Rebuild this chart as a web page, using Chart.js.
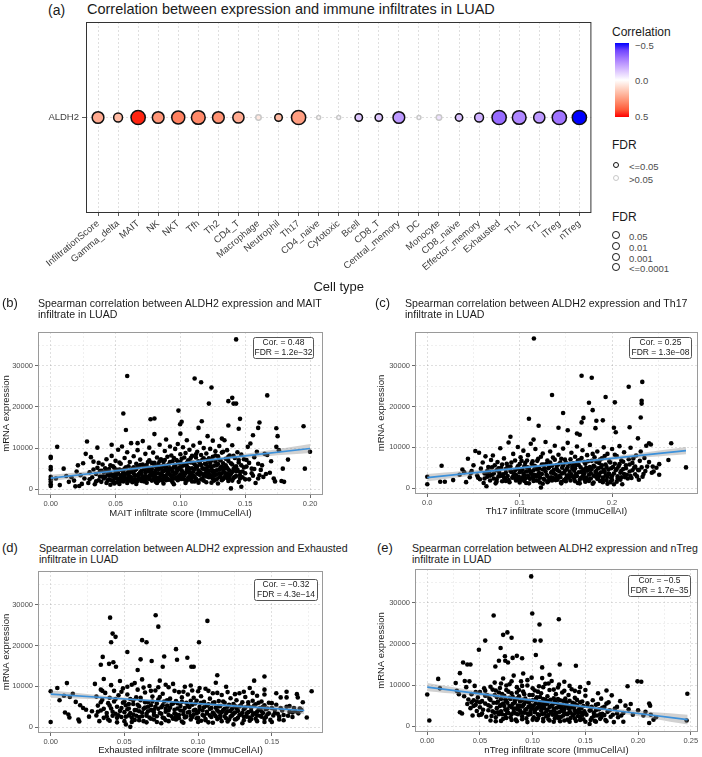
<!DOCTYPE html>
<html>
<head>
<meta charset="utf-8">
<script src="https://cdn.jsdelivr.net/npm/chart.js@4.4.1/dist/chart.umd.min.js"></script>
<style>
  body { margin: 0; background: #fff; width: 702px; height: 757px; position: relative; overflow: hidden;
         font-family: "Liberation Sans", Arial, sans-serif; color: #1a1a1a; }
  .abs { position: absolute; white-space: nowrap; }
  canvas { position: absolute; }
  .tag { font-size: 13px; line-height: 14px; }
  .ttl { font-size: 10.6px; line-height: 11px; }
  .lg { font-size: 9.5px; line-height: 11px; color: #4d4d4d; }
  .dot { position: absolute; border-radius: 50%; box-sizing: content-box; }
</style>
</head>
<body>

<div class="abs tag" style="left:48px;top:2px;font-size:14px;line-height:16px">(a)</div>
<div class="abs" style="left:87px;top:1px;font-size:14.5px;line-height:17px">Correlation between expression and immune infiltrates in LUAD</div>
<canvas id="dotplot" width="600" height="300" style="left:0;top:0"></canvas>

<!-- legends for (a) -->
<div class="abs" style="left:612px;top:25px;font-size:12px;line-height:14px">Correlation</div>
<div id="cbar" class="abs" style="left:615px;top:43px;width:14px;height:74px"></div>
<div class="abs lg" style="left:635px;top:40px">−0.5</div>
<div class="abs lg" style="left:635px;top:74.5px">0.0</div>
<div class="abs lg" style="left:635px;top:111px">0.5</div>
<div class="abs" style="left:612px;top:138px;font-size:12px;line-height:14px">FDR</div>
<div class="dot" style="left:613.4px;top:162.4px;width:4px;height:4px;border:1.6px solid #111"></div>
<div class="dot" style="left:613.4px;top:175.4px;width:4px;height:4px;border:1.6px solid #c8c8c8"></div>
<div class="abs lg" style="left:629px;top:160.5px">&lt;=0.05</div>
<div class="abs lg" style="left:629px;top:173.5px">&gt;0.05</div>
<div class="abs" style="left:612px;top:210px;font-size:12px;line-height:14px">FDR</div>
<div class="dot" style="left:612.3px;top:231.3px;width:5.8px;height:5.8px;border:1.8px solid #111"></div>
<div class="dot" style="left:612.3px;top:242.3px;width:5.8px;height:5.8px;border:1.8px solid #111"></div>
<div class="dot" style="left:612.3px;top:253.3px;width:5.8px;height:5.8px;border:1.8px solid #111"></div>
<div class="dot" style="left:612.3px;top:263.3px;width:5.8px;height:5.8px;border:1.8px solid #111"></div>
<div class="abs lg" style="left:629px;top:230.5px">0.05</div>
<div class="abs lg" style="left:629px;top:241.5px">0.01</div>
<div class="abs lg" style="left:629px;top:252.5px">0.001</div>
<div class="abs lg" style="left:629px;top:262.5px">&lt;=0.0001</div>

<div class="abs tag" style="left:2px;top:296px">(b)</div>
<div class="abs ttl" style="left:38px;top:298px">Spearman correlation between ALDH2 expression and MAIT<br>infiltrate in LUAD</div>
<canvas id="mait" width="350" height="195" style="left:0;top:325px"></canvas>

<div class="abs tag" style="left:375px;top:296px">(c)</div>
<div class="abs ttl" style="left:405px;top:298px">Spearman correlation between ALDH2 expression and Th17<br>infiltrate in LUAD</div>
<canvas id="th17" width="352" height="195" style="left:350px;top:325px"></canvas>

<div class="abs tag" style="left:2px;top:541px">(d)</div>
<div class="abs ttl" style="left:39px;top:543px">Spearman correlation between ALDH2 expression and Exhausted<br>infiltrate in LUAD</div>
<canvas id="exhausted" width="350" height="193" style="left:0;top:564px"></canvas>

<div class="abs tag" style="left:377px;top:541px">(e)</div>
<div class="abs ttl" style="left:412px;top:543px">Spearman correlation between ALDH2 expression and nTreg<br>infiltrate in LUAD</div>
<canvas id="ntreg" width="352" height="195" style="left:350px;top:562px"></canvas>

<script>
// ---- panel (a) data ----
const geneName = 'ALDH2';
const cellTypes = ['InfiltrationScore', 'Gamma_delta', 'MAIT', 'NK', 'NKT', 'Tfh', 'Th2', 'CD4_T', 'Macrophage',
  'Neutrophil', 'Th17', 'CD4_naive', 'Cytotoxic', 'Bcell', 'CD8_T', 'Central_memory', 'DC', 'Monocyte',
  'CD8_naive', 'Effector_memory', 'Exhausted', 'Th1', 'Tr1', 'iTreg', 'nTreg'];
const corValues = [0.22, 0.18, 0.48, 0.27, 0.32, 0.3, 0.28, 0.22, 0.06, 0.18, 0.25, 0.01, -0.01, -0.12, -0.12,
  -0.22, -0.01, -0.06, -0.13, -0.17, -0.32, -0.26, -0.22, -0.3, -0.5];
const fdrValues = [9e-4, 1.1e-2, 1.2e-32, 9e-4, 2.8e-4, 1.5e-4, 9e-4, 1.4e-3, 0.23, 0.036, 1.3e-8, 0.9, 0.9,
  0.04, 0.04, 9e-4, 0.9, 0.23, 0.045, 1.1e-2, 4.3e-14, 1.5e-4, 1.4e-3, 1e-5, 1.7e-35];

// ---- scatter panels: shared y axis ----
const yLabels = ['0', '10000', '20000', '30000'];
const yRange = [-1400, 38200];

// (b) MAIT
const maitXLabels = ['0.00', '0.05', '0.10', '0.15', '0.20'];
const maitPoints = [
  [0.143,36400],[0.059,27500],[0.111,26900],[0.116,26000],[0.124,24700],[0.167,22800],[0.140,22200],[0.137,21400],
  [0.141,20800],[0.143,20800],[0.122,20800],[0.0985,19100],[0.056,18400],[0.077,17000],[0.080,17200],[0.146,17100],
  [0.1165,16500],[0.101,16400],[0.161,16200],[0.0998,15800],[0.195,15300],[0.137,15500],[0.114,14900],[0.160,14900],
  [0.174,14800],[0.145,14700],[0.058,14400],[0.175,12900],[0.121,12900],[0.080,13400],[0.100,13500],[0.156,13100],
  [0.067,11200],[0.089,12100],[0.105,11900],[0.132,12300],[0.047,10800],[0.036,10100],
  [0.000,7900],[0.000,7600],[0.000,5400],[0.000,4800],[0.000,3000],[0.000,2400],[0.000,1800],[0.000,1200],[0.000,800],
  [0.005,10300],[0.007,1000],[0.010,5000],[0.014,1800],[0.004,2600],[0.012,3200],[0.018,2100],[0.020,4300],[0.021,5800],
  [0.022,800],[0.024,1300],[0.025,6300],[0.026,2600],[0.027,8600],[0.028,11600],[0.029,1500],[0.030,4100],[0.031,7800],
  [0.032,2900],[0.033,6700],[0.034,1200],[0.035,3700],[0.019,700],[0.016,2900],[0.023,3400],
  [0.036,5200],[0.037,2200],[0.038,4400],[0.039,1800],[0.040,3100],[0.040,6000],[0.041,2600],[0.042,5100],[0.043,1500],
  [0.043,7300],[0.044,3600],[0.045,2400],[0.045,4900],[0.046,1100],[0.047,3300],[0.047,8100],[0.048,2000],[0.048,5600],
  [0.049,2900],[0.050,4200],[0.050,6900],[0.051,1700],[0.051,3500],[0.052,2500],[0.052,9600],[0.053,4800],[0.053,1300],
  [0.054,3000],[0.054,6200],[0.055,2200],[0.055,10400],[0.056,4100],[0.056,1900],[0.057,7600],[0.057,3200],[0.058,5300],
  [0.058,2600],[0.059,1500],[0.059,9000],[0.060,4400],[0.060,3600],[0.061,2100],[0.061,6600],[0.062,2900],[0.062,11200],
  [0.063,5000],[0.063,1700],[0.064,3800],[0.064,8000],
  [0.065,2400],[0.065,4600],[0.066,6200],[0.066,1300],[0.067,3400],[0.067,9500],[0.068,2800],[0.068,5500],[0.069,4100],
  [0.069,7200],[0.070,2000],[0.070,3700],[0.071,6000],[0.071,11700],[0.072,2500],[0.072,4800],[0.073,8600],[0.073,3200],
  [0.074,1600],[0.074,5900],[0.075,4300],[0.075,2800],[0.076,7000],[0.076,10100],[0.077,3600],[0.077,5200],[0.078,2100],
  [0.078,6400],[0.079,4000],[0.079,8900],[0.080,3100],[0.080,5700],[0.081,1800],[0.081,4600],[0.082,7700],[0.082,2700],
  [0.083,6100],[0.083,3900],[0.084,10800],[0.084,5000],[0.085,2300],[0.085,7300],[0.086,4200],[0.086,3300],[0.087,6600],
  [0.087,1400],[0.088,5400],[0.088,9300],[0.089,3000],[0.089,4700],[0.090,7900],[0.090,2600],[0.091,6000],[0.091,3800],
  [0.092,10400],[0.092,5100],[0.093,2200],[0.093,8200],[0.094,4400],[0.094,6800],[0.095,3500],[0.095,1200],[0.096,5800],
  [0.096,9800],[0.097,2900],[0.097,7100],[0.098,4600],[0.098,11000],[0.099,3200],[0.099,6300],
  [0.100,5300],[0.100,8500],[0.101,2500],[0.101,7400],[0.102,4100],[0.102,10200],[0.103,6000],[0.103,3400],[0.104,8800],
  [0.104,1500],[0.105,5600],[0.105,4700],[0.106,7000],[0.106,2800],[0.107,9600],[0.107,5000],[0.108,3900],[0.108,6500],
  [0.109,1900],[0.109,8100],[0.110,4300],[0.110,10600],[0.111,6100],[0.111,3000],[0.112,7700],[0.112,5300],[0.113,2200],
  [0.113,9100],[0.114,4600],[0.114,6800],[0.115,3500],[0.115,11300],[0.116,5900],[0.116,8300],[0.117,2600],[0.117,7200],
  [0.118,4900],[0.118,10000],[0.119,3800],[0.119,6200],[0.120,1700],[0.120,8700],[0.121,5400],[0.121,4000],[0.122,7500],
  [0.122,2900],[0.123,9800],[0.123,6400],[0.124,3300],[0.124,5000],[0.125,11800],[0.125,7900],[0.126,4400],[0.126,2100],
  [0.127,6700],[0.127,9200],[0.128,3600],[0.128,5800],[0.129,8000],[0.129,1400],[0.130,4800],[0.130,10500],[0.131,7000],
  [0.131,3100],[0.132,5500],[0.132,8900],[0.133,2500],[0.133,6300],[0.134,4100],[0.134,11900],[0.135,7400],[0.135,3400],
  [0.136,5200],[0.136,9500],[0.137,2000],[0.137,6900],[0.138,4500],[0.138,8200],[0.139,200],[0.139,3700],[0.140,6000],
  [0.140,10700],[0.141,4900],[0.141,2700],[0.142,7600],[0.143,3200],[0.143,5600],[0.144,9000],[0.145,1800],[0.145,6500],
  [0.146,4200],[0.147,600],[0.147,8400],[0.148,2900],[0.149,5300],[0.150,3900],
  [0.151,7100],[0.152,10300],[0.153,2400],[0.154,11100],[0.155,5000],[0.156,3300],[0.157,7800],[0.158,1500],[0.159,9100],
  [0.160,6200],[0.161,3400],[0.162,4700],[0.164,3000],[0.165,8600],[0.167,8300],[0.169,4000],[0.170,6800],[0.172,2600],
  [0.173,1900],[0.174,10300],[0.176,9500],[0.178,2000],[0.179,5000],[0.180,1800],[0.183,7200],[0.196,5000],[0.200,9100]
];
const maitPointsDense = [
  [0.041,4100],[0.042,3000],[0.044,2100],[0.046,3900],[0.046,5800],[0.048,3500],[0.049,1400],[0.050,2700],[0.052,3900],
  [0.053,6500],[0.054,2000],[0.055,4600],[0.056,2900],[0.057,5000],[0.058,3800],[0.059,2200],[0.060,5600],[0.061,3100],
  [0.062,4200],[0.063,2400],[0.064,5300],[0.065,3300],[0.066,2300],[0.066,4900],[0.067,2000],[0.068,3700],[0.069,2500],
  [0.069,5900],[0.070,4500],[0.071,3100],[0.072,5500],[0.072,1900],[0.073,4100],[0.074,3000],[0.075,5100],[0.075,6600],
  [0.076,2500],[0.077,4400],[0.078,3300],[0.078,4900],[0.079,2400],[0.080,6400],[0.081,3700],[0.082,5200],[0.082,1500],
  [0.083,4800],[0.084,2900],[0.084,6800],[0.085,3600],[0.086,5600],[0.086,2100],[0.087,4400],[0.088,3200],[0.088,7100],
  [0.089,5700],[0.090,3900],[0.090,4900],[0.091,2300],[0.092,6600],[0.092,3600],[0.093,4800],[0.094,2600],[0.095,5400],
  [0.095,7600],[0.096,3900],[0.097,4900],[0.098,2200],[0.098,6700],[0.099,5200],[0.100,3600],[0.100,6600],[0.101,4600],
  [0.102,2900],[0.102,5700],[0.103,7700],[0.104,3900],[0.105,6400],[0.106,4200],[0.106,5200],[0.107,3200],[0.108,7600],
  [0.108,2300],[0.109,5100],[0.110,6400],[0.110,3400],[0.111,4900],[0.112,2600],[0.112,8500],[0.113,5600],[0.114,3700],
  [0.115,6400],[0.115,4300],[0.116,2400],[0.117,5100],[0.118,3300],[0.118,7500],[0.119,5000],[0.120,3100],[0.120,6100],
  [0.121,7100],[0.122,4400],[0.123,3000],[0.123,5600],[0.124,7000],[0.125,4200],[0.125,2600],[0.126,5700],[0.127,3500],
  [0.127,8200],[0.128,4600],[0.129,6100],[0.130,2900],[0.130,7200],[0.131,5200],[0.132,3900],[0.133,4700],[0.133,9100],
  [0.134,2900],[0.135,5800],[0.136,3800],[0.137,7900],[0.137,4800],[0.138,2600],[0.139,6300],[0.140,4200],[0.141,8100],
  [0.142,5300],[0.142,3000],[0.144,4800],[0.145,7100],[0.146,3400],[0.147,5800],[0.148,4300],[0.149,7300],[0.150,2400],
  [0.151,5500],[0.153,6400],[0.155,3900],[0.157,4900],[0.160,2600],[0.163,5800],[0.166,3700],[0.030,2400],[0.033,4800],
  [0.035,1900],[0.037,6400],[0.038,3100],[0.039,4500],[0.043,4600],[0.045,3400],[0.047,2200],[0.049,5200],[0.051,4700],
  [0.053,2300],[0.055,3500],[0.057,2400],[0.060,2800],[0.062,4700],[0.064,2000],[0.067,5500],[0.070,2600],[0.073,2200],
  [0.076,3200],[0.079,3400],[0.081,2600],[0.083,2000],[0.085,5100],[0.087,2500],[0.089,2200],[0.091,4600],[0.093,3100],
  [0.094,1700],[0.096,2600],[0.097,4000],[0.099,2500],[0.101,3500],[0.103,2400],[0.105,2100],[0.107,4200],[0.109,3000],
  [0.111,1900],[0.113,3800],[0.114,1600],[0.116,3900],[0.118,2100],[0.120,4500],[0.122,3700],[0.124,1600],[0.126,3300],
  [0.128,2400],[0.130,3900],[0.132,2200],[0.134,5100],[0.136,2700],[0.138,3200],[0.140,2100],[0.143,4300],[0.146,2600]
];
const maitFitX = [0, 0.05, 0.1, 0.15, 0.2];
const maitFitY = [2700, 4500, 6300, 8100, 9900];
const maitFitHalf = [800, 450, 300, 500, 1100];

// (c) Th17
const th17XLabels = ['0.0', '0.1', '0.2'];
const th17Points = [
  [0.1154,36600],[0.167,27500],[0.178,27000],[0.2327,26000],[0.218,24800],[0.135,22800],[0.193,22300],[0.232,21400],
  [0.232,20700],[0.175,20900],[0.203,21000],[0.179,19100],[0.147,18400],[0.231,17300],[0.110,17000],[0.169,17200],
  [0.190,16600],[0.183,16500],[0.167,16100],[0.1205,15300],[0.219,14900],[0.202,14800],[0.142,14800],[0.182,14700],
  [0.152,14200],[0.204,13700],[0.162,13400],[0.165,13100],[0.115,11900],[0.228,12200],[0.090,12600],
  [0,2800],[0,1000],[0.0155,5500],[0.014,1600],[0.019,1600],[0.028,2000],[0.035,3300],[0.038,4600],[0.04,3900],
  [0.042,1500],[0.044,7200],[0.046,2700],[0.048,4200],[0.05,5600],[0.052,9100],[0.054,3100],[0.056,8700],[0.057,2200],
  [0.058,4800],[0.06,6300],[0.061,1300],[0.062,3600],[0.063,7800],[0.064,500],[0.065,2800],[0.066,5200],[0.067,4100],
  [0.068,1900],[0.069,6900],[0.07,3300],[0.071,8000],[0.072,2400],[0.073,5600],[0.074,1200],[0.075,4400],[0.076,6400],
  [0.077,2900],[0.078,3800],[0.079,9800],[0.08,5000],[0.081,1700],[0.082,3400],[0.083,7300],[0.084,2300],[0.085,4700],
  [0.086,6000],[0.087,3000],[0.088,11200],[0.089,1500],[0.09,5300],[0.091,4000],[0.092,2600],[0.093,8400],[0.094,3500],
  [0.095,6800],[0.096,1900],[0.097,4800],[0.098,10100],[0.099,2800],[0.1,5900],[0.1,3900],[0.101,7600],[0.102,2100],
  [0.103,4500],[0.104,9200],[0.105,3200],[0.106,6200],[0.107,1300],[0.108,5100],[0.109,8100],[0.11,2600],[0.111,4200],
  [0.112,10900],[0.113,3500],[0.114,6600],[0.115,1800],[0.116,5500],[0.117,9600],[0.118,2900],[0.119,4600],[0.12,7200],
  [0.121,3700],[0.122,1400],[0.123,200],[0.124,5800],[0.125,8500],[0.126,2300],[0.127,4900],[0.128,11300],[0.129,3300],
  [0.13,6800],[0.131,1700],[0.132,5200],[0.133,9000],[0.134,2700],[0.135,4100],[0.136,7500],[0.137,3600],[0.138,10400],
  [0.139,2000],[0.14,5600],[0.141,4400],[0.142,8200],[0.143,3000],[0.144,6300],[0.145,1500],[0.146,5000],[0.147,9700],
  [0.148,3800],[0.149,7000],[0.15,2400],[0.151,4700],[0.152,11100],[0.153,3200],[0.154,6000],[0.155,1900],[0.156,8700],
  [0.157,5300],[0.158,2800],[0.159,4300],[0.16,7700],[0.161,3500],[0.162,10200],[0.163,1300],[0.164,5700],[0.165,6900],
  [0.166,2500],[0.167,4000],[0.168,9300],[0.169,3100],[0.17,6400],[0.171,1600],[0.172,5000],[0.173,8100],[0.174,2200],
  [0.175,4600],[0.176,10600],[0.177,3700],[0.178,6700],[0.179,1100],[0.18,5500],[0.181,7600],[0.182,2900],[0.183,4200],
  [0.184,9000],[0.185,3400],[0.186,6200],[0.187,1800],[0.188,5100],[0.189,7300],[0.19,2600],[0.191,10000],[0.192,4000],
  [0.193,5800],[0.194,2000],[0.195,8400],[0.196,3600],[0.197,6600],[0.198,1500],[0.199,4900],[0.2,9600],[0.2,3000],
  [0.202,1000],[0.203,6000],[0.204,4400],[0.205,7900],[0.206,2300],[0.207,5300],[0.208,10300],[0.209,3800],[0.21,6800],
  [0.211,1000],[0.212,4700],[0.213,8800],[0.214,2700],[0.215,5600],[0.216,3300],[0.218,7100],[0.219,4100],[0.22,9900],
  [0.221,2500],[0.222,6200],[0.224,5000],[0.225,3400],[0.226,8000],[0.228,4500],[0.229,2100],[0.23,6700],[0.231,9000],
  [0.233,2800],[0.234,3500],[0.235,7400],[0.237,10400],[0.238,5300],[0.24,11000],[0.242,10700],[0.244,5300],[0.245,4100],
  [0.251,3300],[0.251,5900],[0.261,6900],[0.264,11000],[0.28,5100]
];
const th17PointsDense = [
  [0.062,2400],[0.065,4300],[0.068,3100],[0.07,5100],[0.072,3600],[0.075,2200],[0.077,4900],[0.079,3000],[0.081,5800],
  [0.083,2700],[0.085,3800],[0.087,5300],[0.088,2000],[0.09,4200],[0.091,6300],[0.093,2900],[0.095,4400],[0.096,3300],
  [0.098,5400],[0.099,2200],[0.101,4300],[0.102,6700],[0.103,2700],[0.104,3600],[0.105,5400],[0.106,2400],[0.107,4100],
  [0.108,6800],[0.109,3100],[0.11,5000],[0.111,2300],[0.112,3900],[0.113,6000],[0.114,2600],[0.115,4400],[0.116,3300],
  [0.117,5300],[0.118,1900],[0.119,6700],[0.12,3400],[0.121,4800],[0.122,2600],[0.123,7700],[0.124,3500],[0.125,4600],
  [0.126,5800],[0.127,2100],[0.128,4100],[0.129,6000],[0.13,3000],[0.131,4900],[0.132,2300],[0.133,6300],[0.134,3800],
  [0.135,5500],[0.136,2500],[0.137,4500],[0.138,7000],[0.139,3300],[0.14,4900],[0.141,2100],[0.142,5800],[0.143,4100],
  [0.144,2700],[0.145,7200],[0.146,3600],[0.147,5600],[0.148,2000],[0.149,4300],[0.15,6300],[0.151,3100],[0.152,5200],
  [0.153,2600],[0.154,4100],[0.155,7100],[0.156,3400],[0.157,4800],[0.158,6100],[0.159,2300],[0.16,4900],[0.161,5700],
  [0.162,3000],[0.163,6800],[0.164,3900],[0.165,2100],[0.166,5100],[0.167,7400],[0.168,2900],[0.169,4600],[0.17,3700],
  [0.171,6000],[0.172,2600],[0.173,4300],[0.174,6600],[0.175,3300],[0.176,5200],[0.177,2400],[0.178,4700],[0.179,8400],
  [0.18,3100],[0.181,5300],[0.182,4000],[0.183,6500],[0.184,2300],[0.185,4900],[0.186,3200],[0.187,7000],[0.188,3900],
  [0.189,5600],[0.19,2000],[0.191,4500],[0.192,7900],[0.193,3100],[0.194,5200],[0.195,2800],[0.196,4600],[0.197,3500],
  [0.198,6300],[0.199,2500],[0.201,5200],[0.202,3600],[0.203,8200],[0.205,4700],[0.206,2900],[0.208,5900],[0.209,2100],
  [0.21,4300],[0.212,6500],[0.213,3500],[0.215,4900],[0.217,2400],[0.219,5800],[0.22,3000],[0.222,4400],[0.223,7300],
  [0.225,5300],[0.227,2900],[0.229,4400],[0.232,5100],[0.236,4200],[0.24,6400],[0.243,3800],[0.248,5000],[0.1,1400],
  [0.105,1800],[0.11,1200],[0.115,2700],[0.12,1900],[0.125,1100],[0.13,1500],[0.135,1900],[0.14,2700],[0.145,1200],
  [0.15,1700],[0.155,2900],[0.16,1700],[0.165,1200],[0.17,2200],[0.175,1800],[0.18,1400],[0.185,2700],[0.19,1500],
  [0.195,1100],[0.2,2000],[0.205,1600],[0.21,2700],[0.095,2500],[0.085,1800],[0.075,1600],[0.065,3500],[0.055,2600],
  [0.047,3700]
];
const th17FitX = [0, 0.07, 0.14, 0.21, 0.28];
const th17FitY = [2600, 4250, 5900, 7550, 9200];
const th17FitHalf = [900, 500, 300, 500, 900];

// (d) Exhausted
const exhXLabels = ['0.00', '0.05', '0.10', '0.15'];
const exhPoints = [
  [0.0712,27400],[0.0403,26800],[0.1063,26000],[0.073,24600],[0.042,22900],[0.044,22100],[0.041,20800],[0.062,21300],
  [0.065,20800],[0.1006,20800],[0.085,19100],[0.052,18400],[0.077,17300],[0.0857,16500],[0.061,16600],[0.0927,17000],
  [0.0353,17200],[0.0685,16200],[0.0396,15500],[0.0425,15900],[0.034,15300],[0.0443,14800],[0.097,14800],[0.0954,14800],
  [0.076,14800],[0.059,14000],[0.113,12700],[0.145,12400],[0.138,11400],
  [0,8800],[0,1300],[0.0045,9600],[0.011,10800],[0.0097,3600],[0.012,3100],[0.0127,2400],[0.0188,1900],[0.0194,1400],
  [0.006,6600],[0.009,7700],[0.013,7400],[0.015,8200],[0.017,6200],[0.02,5400],[0.022,4700],[0.024,4300],[0.026,2600],
  [0.028,3900],[0.03,10600],[0.031,7500],[0.031,2900],[0.032,5300],[0.033,1500],[0.034,9200],[0.034,4100],[0.035,6700],
  [0.036,2300],[0.036,11800],[0.037,8400],[0.038,3500],[0.039,5900],[0.039,1900],[0.04,7200],[0.041,4600],[0.041,10300],
  [0.042,2800],[0.043,6300],[0.043,8900],[0.044,3300],[0.045,5000],[0.045,1200],[0.046,7800],[0.047,4000],[0.047,11300],
  [0.048,2500],[0.049,6000],[0.049,9500],[0.05,3700],[0.051,5400],[0.051,700],[0.052,8000],[0.053,2900],[0.053,4600],
  [0.054,100],[0.054,6900],[0.055,10400],[0.056,3100],[0.056,5700],[0.057,1800],[0.058,7300],[0.058,4200],[0.059,9200],
  [0.06,2500],[0.06,5100],[0.061,6600],[0.062,3600],[0.062,11700],[0.063,1500],[0.064,4800],[0.064,8500],[0.065,2800],
  [0.066,6100],[0.066,3900],[0.067,10100],[0.068,5400],[0.068,2100],[0.069,7500],[0.07,4300],[0.07,3000],[0.071,9000],
  [0.072,5800],[0.072,1300],[0.073,6800],[0.074,3500],[0.074,11400],[0.075,4900],[0.076,2400],[0.076,8200],[0.077,6300],
  [0.078,3800],[0.078,1700],[0.079,5300],[0.08,9800],[0.08,4100],[0.081,7000],[0.082,2700],[0.083,5800],[0.083,10600],
  [0.084,3400],[0.085,6400],[0.085,1900],[0.086,4600],[0.087,8600],[0.087,3000],[0.088,5200],[0.089,7300],[0.089,1400],
  [0.09,4000],[0.091,9900],[0.091,2400],[0.092,6000],[0.093,3600],[0.093,8000],[0.094,4900],[0.095,1900],[0.095,10200],
  [0.096,5500],[0.097,3100],[0.097,7200],[0.098,4300],[0.099,2200],[0.099,6500],[0.1,3700],[0.1,8800],[0.101,5000],
  [0.102,1600],[0.102,7600],[0.103,4100],[0.104,2800],[0.104,6200],[0.105,9400],[0.106,3400],[0.106,5300],[0.107,1200],
  [0.108,7000],[0.108,4500],[0.109,2500],[0.11,5900],[0.11,8300],[0.111,3200],[0.112,4800],[0.112,10900],[0.113,2000],
  [0.114,6400],[0.114,3800],[0.115,5200],[0.116,7900],[0.116,1500],[0.117,4200],[0.118,2700],[0.118,6000],[0.119,3500],
  [0.12,8600],[0.12,5000],[0.121,1900],[0.122,4000],[0.122,7100],[0.123,2900],[0.124,5700],[0.124,700],[0.125,3600],
  [0.126,6600],[0.126,4600],[0.127,2300],[0.128,8300],[0.128,5100],[0.129,3100],[0.13,6100],[0.131,1700],[0.131,4400],
  [0.132,7400],[0.133,2600],[0.134,5300],[0.134,3700],[0.135,9600],[0.136,4800],[0.136,2000],[0.137,6500],[0.138,3400],
  [0.139,5600],[0.14,1500],[0.14,7700],[0.141,4200],[0.142,2800],[0.143,6300],[0.143,3900],[0.144,5000],[0.145,2100],
  [0.145,8000],[0.146,4400],[0.147,3200],[0.148,6000],[0.149,1800],[0.15,4700],[0.152,3500],[0.153,5500],[0.155,2600],
  [0.156,7300],[0.157,4100],[0.158,1700],[0.16,7300],[0.161,2800],[0.162,5200],[0.164,3600],[0.166,3900],[0.167,8100],
  [0.1676,7300],[0.169,4600],[0.171,6100],[0.1737,2400],[0.177,8800]
];
const exhPointsDense = [
  [0.032,3800],[0.034,6100],[0.036,4500],[0.038,2700],[0.04,5300],[0.042,3800],[0.044,6900],[0.046,2900],[0.048,4700],
  [0.05,6300],[0.051,2600],[0.052,4400],[0.053,5700],[0.054,3500],[0.055,2300],[0.056,6600],[0.057,4200],[0.058,2800],
  [0.059,5500],[0.06,3900],[0.061,7200],[0.062,2700],[0.063,4500],[0.064,6100],[0.065,3300],[0.066,5000],[0.067,2400],
  [0.068,4200],[0.069,6300],[0.07,3600],[0.071,5000],[0.072,2700],[0.073,4500],[0.074,7400],[0.075,3300],[0.076,5400],
  [0.077,2200],[0.078,4500],[0.079,6600],[0.08,3000],[0.081,4800],[0.082,5600],[0.083,2100],[0.084,4300],[0.085,3200],
  [0.086,5900],[0.087,2200],[0.088,4100],[0.089,6200],[0.09,3200],[0.091,4700],[0.092,2600],[0.093,5300],[0.094,3700],
  [0.095,6500],[0.096,2500],[0.097,4100],[0.098,5800],[0.099,3400],[0.1,2300],[0.101,4400],[0.102,6000],[0.103,3000],
  [0.104,4900],[0.105,2000],[0.106,3800],[0.107,5600],[0.108,2900],[0.109,4700],[0.11,3600],[0.111,6100],[0.112,2700],
  [0.113,4100],[0.114,5100],[0.115,2300],[0.116,3700],[0.117,6300],[0.118,4500],[0.119,2200],[0.12,3900],[0.121,5500],
  [0.122,2600],[0.123,4500],[0.124,3300],[0.125,5200],[0.126,2000],[0.127,4000],[0.128,3000],[0.129,5400],[0.13,3600],
  [0.131,2600],[0.132,4800],[0.133,3400],[0.134,6100],[0.135,2400],[0.136,4000],[0.137,3000],[0.138,5300],[0.139,2100],
  [0.14,3800],[0.141,6000],[0.142,4700],[0.143,2600],[0.144,3500],[0.145,5400],[0.146,2500],[0.147,4600],[0.148,3400],
  [0.15,5900],[0.151,2900],[0.152,4200],[0.154,3300],[0.156,4700],[0.158,3000],[0.16,5000],[0.162,3800],[0.164,2500],
  [0.165,4700],[0.168,3400],[0.17,4200],[0.04,1600],[0.045,2300],[0.05,1500],[0.055,1300],[0.06,1700],[0.065,1200],
  [0.07,1900],[0.075,1000],[0.08,1500],[0.085,2500],[0.09,1100],[0.095,2800],[0.1,1300],[0.105,1700],[0.11,1100],
  [0.115,2900],[0.12,1400],[0.125,1900],[0.13,1000],[0.135,1600],[0.14,2900],[0.145,1300],[0.15,1300],[0.155,1900],
  [0.035,8900],[0.048,8700],[0.052,9900],[0.057,10800],[0.063,9700],[0.068,8900],[0.073,9800],[0.078,10400],[0.084,8900],
  [0.09,8700],[0.096,9000],[0.101,9600],[0.107,8900],[0.113,8400],[0.119,9900],[0.125,8100],[0.131,8700],[0.137,8400],
  [0.145,9200],[0.153,8300],[0.16,8700]
];
const exhFitX = [0, 0.043, 0.086, 0.129, 0.172];
const exhFitY = [8100, 7100, 6100, 5100, 4100];
const exhFitHalf = [900, 450, 250, 450, 900];

// (e) nTreg
const ntregXLabels = ['0.00', '0.05', '0.10', '0.15', '0.20', '0.25'];
const ntregPoints = [
  [0.0986,36400],[0.0996,27400],[0.063,26900],[0.1248,26000],[0.1065,24700],[0.076,22800],[0.072,22200],[0.080,21500],
  [0.055,20800],[0.102,20800],[0.1075,20800],[0.0696,19000],[0.103,17300],[0.0737,17000],[0.085,17100],[0.090,16500],
  [0.081,16600],[0.074,15900],[0.0766,15500],[0.068,15900],[0.038,15000],[0.041,15000],[0.1257,15000],[0.141,14700],
  [0.0646,14500],[0.109,14300],[0.091,12800],[0.109,11700],[0.116,12500],
  [0,7700],[0.002,1400],[0.0104,11500],[0.012,9200],[0.027,10500],[0.028,8600],[0.03,7800],[0.031,3400],[0.031,12900],
  [0.033,3100],[0.034,15500],[0.035,7300],[0.0356,11000],[0.037,9500],[0.038,5400],[0.039,6500],[0.04,10900],[0.041,4400],
  [0.042,7800],[0.043,2600],[0.044,6300],[0.045,9800],[0.046,5200],[0.047,3700],[0.048,7000],[0.049,18600],[0.05,4600],
  [0.05,8300],[0.051,2800],[0.052,6100],[0.053,4000],[0.054,9200],[0.055,5500],[0.056,2300],[0.057,7500],[0.058,3900],
  [0.059,6700],[0.06,4800],[0.061,2500],[0.062,8900],[0.063,5700],[0.064,3300],[0.064,10600],[0.065,1200],[0.066,7100],
  [0.066,4400],[0.067,6000],[0.068,2900],[0.069,9300],[0.07,5200],[0.07,3600],[0.071,7800],[0.072,1800],[0.072,11600],
  [0.073,4900],[0.074,6500],[0.074,2700],[0.075,8800],[0.076,4100],[0.076,5700],[0.077,3200],[0.078,10200],[0.078,6900],
  [0.079,2200],[0.08,4600],[0.08,8000],[0.081,5400],[0.082,3500],[0.082,12300],[0.083,6200],[0.084,1600],[0.084,4300],
  [0.085,9500],[0.086,5000],[0.086,2900],[0.087,7300],[0.088,3900],[0.088,6000],[0.089,10900],[0.09,2400],[0.09,4800],
  [0.091,8400],[0.092,5500],[0.092,3300],[0.093,6700],[0.094,1900],[0.094,4200],[0.095,9900],[0.096,5800],[0.096,2800],
  [0.097,7600],[0.098,3700],[0.098,5100],[0.099,11800],[0.1,4400],[0.1,6300],[0.101,2200],[0.102,8700],[0.102,3400],
  [0.103,5600],[0.104,1500],[0.104,7000],[0.105,4600],[0.106,9700],[0.106,2600],[0.107,5900],[0.108,3800],[0.108,8000],
  [0.109,4900],[0.11,1800],[0.11,6600],[0.111,3100],[0.112,10300],[0.112,5300],[0.113,2400],[0.114,7300],[0.114,4000],
  [0.115,6100],[0.116,1400],[0.116,8800],[0.117,3500],[0.118,5000],[0.118,11000],[0.119,2800],[0.12,6800],[0.12,4300],
  [0.121,1900],[0.122,7800],[0.122,3300],[0.123,5600],[0.124,9400],[0.124,2300],[0.125,4700],[0.126,6300],[0.126,1200],
  [0.127,3700],[0.128,8200],[0.128,5200],[0.129,2600],[0.13,4100],[0.13,10800],[0.131,6700],[0.132,3000],[0.133,5000],
  [0.133,1600],[0.134,7600],[0.135,3600],[0.136,4500],[0.136,2000],[0.137,9000],[0.138,5700],[0.139,2900],[0.14,3900],
  [0.14,6900],[0.141,1300],[0.142,5100],[0.143,3300],[0.144,8300],[0.145,2200],[0.146,4400],[0.147,6000],[0.148,1700],
  [0.149,3600],[0.15,7400],[0.151,2800],[0.152,4900],[0.153,10500],[0.154,560],[0.155,3900],[0.156,2000],[0.157,6300],
  [0.158,3200],[0.159,1300],[0.16,5200],[0.161,2600],[0.162,8000],[0.163,4100],[0.164,1800],[0.165,6700],[0.166,3000],
  [0.168,4700],[0.169,1500],[0.17,8700],[0.171,3500],[0.172,5800],[0.174,2300],[0.175,7500],[0.177,1000],[0.178,4300],
  [0.18,3100],[0.181,2200],[0.183,6100],[0.186,3200],[0.186,1100],[0.188,5000],[0.19,9700],[0.191,4100],[0.193,5400],
  [0.195,2800],[0.1994,10900],[0.2,3900],[0.203,10800],[0.205,2600],[0.207,3500],[0.2105,5500],[0.2114,5000],[0.2105,800],
  [0.212,2800],[0.2146,1600],[0.217,2200],[0.2467,7900],[0.246,1400]
];
const ntregPointsDense = [
  [0.052,3100],[0.055,7400],[0.058,5100],[0.06,6400],[0.062,3600],[0.064,7600],[0.066,5700],[0.067,3400],[0.068,8200],
  [0.069,4900],[0.07,6600],[0.071,2900],[0.072,5500],[0.073,7400],[0.074,4000],[0.075,6100],[0.076,3400],[0.077,8400],
  [0.078,4900],[0.079,6600],[0.08,2900],[0.081,7200],[0.082,4300],[0.083,5700],[0.084,3100],[0.085,6700],[0.086,4100],
  [0.087,8800],[0.088,4900],[0.089,3300],[0.09,6400],[0.091,5100],[0.092,7800],[0.093,4000],[0.094,6100],[0.095,3100],
  [0.096,4700],[0.097,6200],[0.098,3000],[0.099,4500],[0.1,7600],[0.101,5000],[0.102,3900],[0.103,6600],[0.104,4300],
  [0.105,2900],[0.106,5300],[0.107,7100],[0.108,4600],[0.109,3000],[0.11,5400],[0.111,4400],[0.112,6500],[0.113,3600],
  [0.114,5500],[0.115,2700],[0.116,4700],[0.117,6400],[0.118,3300],[0.119,5300],[0.12,3900],[0.121,6100],[0.122,2700],
  [0.123,4500],[0.124,6600],[0.125,3400],[0.126,5000],[0.127,2300],[0.128,4300],[0.129,6200],[0.13,3200],[0.131,4900],
  [0.132,5800],[0.133,2900],[0.134,4400],[0.135,6200],[0.136,3300],[0.137,5000],[0.138,2600],[0.139,4500],[0.14,5400],
  [0.141,3500],[0.142,6400],[0.143,2500],[0.144,4100],[0.145,5800],[0.146,3300],[0.147,2700],[0.148,4900],[0.15,3100],
  [0.152,5600],[0.154,3800],[0.156,4700],[0.158,2500],[0.16,3900],[0.162,5400],[0.164,2900],[0.166,4500],[0.168,2700],
  [0.17,5500],[0.173,3900],[0.176,2800],[0.18,4700],[0.184,2600],[0.06,1400],[0.065,2200],[0.07,1300],[0.075,2000],
  [0.08,1500],[0.085,1200],[0.09,1700],[0.095,1000],[0.1,1600],[0.105,1900],[0.11,1200],[0.115,1700],[0.12,1100],
  [0.125,1900],[0.13,1400],[0.135,1100],[0.14,1900],[0.145,1500],[0.15,1100],[0.155,1500],[0.16,1100],[0.165,2200],
  [0.17,1200],[0.05,5800],[0.055,8600],[0.06,9600],[0.065,8700],[0.07,10400],[0.075,9900],[0.08,10900],[0.085,8200],
  [0.09,9800],[0.095,11200],[0.1,9200],[0.105,8400],[0.11,9500],[0.115,10400],[0.12,8900],[0.125,10100],[0.13,8600],
  [0.135,9800],[0.14,8600],[0.145,9500],[0.15,8800],[0.044,4900],[0.047,6000],[0.049,2700],[0.046,8300],[0.042,5800]
];
const ntregFitX = [0, 0.062, 0.124, 0.185, 0.247];
const ntregFitY = [9500, 7500, 5550, 3600, 1600];
const ntregFitHalf = [1000, 500, 300, 550, 1200];

// ---- helpers ----
Chart.defaults.font.family = '"Liberation Sans", Arial, sans-serif';
Chart.defaults.color = '#4d4d4d';

// white -> red / blue ramp in Lab, like scale_colour_gradient2
function lin(c) { c /= 255; return c <= 0.04045 ? c / 12.92 : Math.pow((c + 0.055) / 1.055, 2.4); }
function unlin(c) { c = c <= 0.0031308 ? 12.92 * c : 1.055 * Math.pow(c, 1 / 2.4) - 0.055; return Math.round(Math.max(0, Math.min(1, c)) * 255); }
function toLab(rgb) {
  const [r, g, b] = rgb.map(lin);
  const x = (0.4124 * r + 0.3576 * g + 0.1805 * b) / 0.95047;
  const y = 0.2126 * r + 0.7152 * g + 0.0722 * b;
  const z = (0.0193 * r + 0.1192 * g + 0.9505 * b) / 1.08883;
  const f = t => t > 0.008856 ? Math.cbrt(t) : 7.787 * t + 16 / 116;
  return [116 * f(y) - 16, 500 * (f(x) - f(y)), 200 * (f(y) - f(z))];
}
function fromLab([L, A, B]) {
  const fy = (L + 16) / 116, fx = fy + A / 500, fz = fy - B / 200;
  const inv = t => t * t * t > 0.008856 ? t * t * t : (t - 16 / 116) / 7.787;
  const x = inv(fx) * 0.95047, y = inv(fy), z = inv(fz) * 1.08883;
  const r = 3.2406 * x - 1.5372 * y - 0.4986 * z;
  const g = -0.9689 * x + 1.8758 * y + 0.0415 * z;
  const b = 0.0557 * x - 0.2040 * y + 1.0570 * z;
  return 'rgb(' + [r, g, b].map(unlin).join(',') + ')';
}
const labWhite = toLab([255, 255, 255]), labRed = toLab([255, 0, 0]), labBlue = toLab([0, 0, 255]);
function corColor(v) {
  const t = Math.min(Math.abs(v) / 0.5, 1);
  const end = v > 0 ? labRed : labBlue;
  return fromLab(labWhite.map((w, i) => w + (end[i] - w) * t));
}
function fdrRadius(f) { return 1.9 + 1.3 * Math.min(-Math.log10(f), 4); }

document.getElementById('cbar').style.background = 'linear-gradient(to bottom,' +
  [-0.5, -0.4, -0.3, -0.2, -0.1, 0, 0.1, 0.2, 0.3, 0.4, 0.5].map(corColor).join(',') + ')';

const framePlugin = {
  id: 'frame',
  beforeDatasetsDraw(chart, args, o) {
    const { ctx, chartArea: a } = chart;
    ctx.save();
    ctx.strokeStyle = o.color || '#999';
    ctx.lineWidth = o.width || 1;
    ctx.strokeRect(a.left + 0.5, a.top + 0.5, a.right - a.left - 1, a.bottom - a.top - 1);
    ctx.restore();
  }
};

const corBoxPlugin = {
  id: 'corBox',
  afterDatasetsDraw(chart, args, o) {
    if (!o || !o.lines) return;
    const { ctx, chartArea: a } = chart;
    const x = Math.round(a.right - o.right - o.w) + 0.5, y = Math.round(a.top + o.top) + 0.5;
    ctx.save();
    ctx.fillStyle = '#fff';
    ctx.strokeStyle = '#555';
    ctx.lineWidth = 1;
    ctx.beginPath();
    if (ctx.roundRect) ctx.roundRect(x, y, o.w, o.h, 2); else ctx.rect(x, y, o.w, o.h);
    ctx.fill();
    ctx.stroke();
    ctx.fillStyle = '#1a1a1a';
    ctx.font = '8.5px "Liberation Sans", Arial, sans-serif';
    ctx.textAlign = 'center';
    ctx.textBaseline = 'middle';
    o.lines.forEach((t, i) => ctx.fillText(t, x + o.w / 2, y + o.h / 2 + (i - 0.5) * 10));
    ctx.restore();
  }
};

// major ticks from the label list, plus unlabeled minor ticks halfway
function withMinor(labels, range) {
  const major = labels.map(l => ({ value: Number(l), text: l }));
  const step = major[1].value - major[0].value;
  const minor = [];
  const cands = [major[0].value - step / 2].concat(major.map(m => m.value + step / 2));
  cands.forEach(v => { if (v > range[0] && v < range[1]) minor.push({ value: +v.toFixed(6), text: '', minor: true }); });
  return major.concat(minor).sort((a, b) => a.value - b.value);
}

// ---- panel (a) dot plot ----
new Chart(document.getElementById('dotplot'), {
  type: 'scatter',
  data: {
    datasets: [{
      data: cellTypes.map((c, i) => ({ x: i, y: 0 })),
      pointRadius: fdrValues.map(fdrRadius),
      pointBackgroundColor: corValues.map(corColor),
      pointBorderColor: fdrValues.map(f => f <= 0.05 ? '#111' : '#c8c8c8'),
      pointBorderWidth: 1.5
    }]
  },
  options: {
    responsive: false, animation: false, events: [],
    layout: { padding: { top: 22, right: 4, left: 0, bottom: 0 } },
    plugins: { legend: { display: false }, tooltip: { enabled: false }, frame: { color: '#333', width: 1 } },
    scales: {
      x: {
        type: 'linear', min: -0.6, max: 24.6,
        afterBuildTicks: s => { s.ticks = cellTypes.map((c, i) => ({ value: i })); },
        afterFit: s => { s.height = 87; },
        ticks: { autoSkip: false, minRotation: 40, maxRotation: 40, padding: 2, color: '#3d3d3d',
                 font: { size: 9.5 }, callback: v => cellTypes[v] },
        grid: { color: 'rgba(0,0,0,0.16)', lineWidth: 0.8, tickColor: '#333', tickLength: 3 },
        border: { display: false, dash: [2, 2] },
        title: { display: true, text: 'Cell type', color: '#1a1a1a', font: { size: 13 }, padding: { top: 0, bottom: 5 } }
      },
      y: {
        type: 'linear', min: -1, max: 1,
        afterBuildTicks: s => { s.ticks = [{ value: 0 }]; },
        afterFit: s => { s.width = 86; },
        ticks: { color: '#3d3d3d', font: { size: 9.5 }, padding: 3, callback: () => geneName },
        grid: { color: 'rgba(0,0,0,0.16)', lineWidth: 0.8, tickColor: '#333', tickLength: 4 },
        border: { display: false, dash: [2, 2] }
      }
    }
  },
  plugins: [framePlugin]
});

// ---- panels (b)-(e) ----
function scatterPanel(id, p) {
  const xs = withMinor(p.xLabels, p.xRange);
  const ys = withMinor(yLabels, yRange);
  const grid = {
    color: c => c.tick && c.tick.minor ? 'rgba(0,0,0,0.08)' : 'rgba(0,0,0,0.16)',
    tickColor: c => c.tick && c.tick.minor ? 'rgba(0,0,0,0)' : '#444',
    tickLength: 3, lineWidth: 0.8
  };
  const band = (sign) => p.fitX.map((x, i) => ({ x, y: p.fitY[i] + sign * p.fitHalf[i] }));
  new Chart(document.getElementById(id), {
    type: 'scatter',
    data: {
      datasets: [
        { data: p.points.map(([x, y]) => ({ x, y })), pointRadius: 2.3, pointBackgroundColor: '#000',
          pointBorderWidth: 0, order: 4 },
        { type: 'line', data: band(-1), borderColor: 'rgba(0,0,0,0)', pointRadius: 0, fill: false,
          tension: 0.4, order: 3 },
        { type: 'line', data: band(1), borderColor: 'rgba(0,0,0,0)', pointRadius: 0, fill: '-1',
          backgroundColor: 'rgba(140,140,140,0.4)', tension: 0.4, order: 2 },
        { type: 'line', data: p.fitX.map((x, i) => ({ x, y: p.fitY[i] })), borderColor: '#3c91db',
          borderWidth: 1.6, pointRadius: 0, fill: false, order: 1 }
      ]
    },
    options: {
      responsive: false, animation: false, events: [],
      layout: { padding: { left: p.padL, right: p.padR, top: 7, bottom: 0 } },
      plugins: {
        legend: { display: false }, tooltip: { enabled: false },
        frame: { color: '#9a9a9a', width: 1 },
        corBox: { lines: p.box, right: p.boxRight, top: p.boxTop, w: p.boxW, h: 21 }
      },
      scales: {
        x: {
          type: 'linear', min: p.xRange[0], max: p.xRange[1],
          afterBuildTicks: s => { s.ticks = xs.map(t => ({ ...t })); },
          afterFit: s => { s.height = p.xAxisH; },
          ticks: { autoSkip: false, maxRotation: 0, padding: 1, color: '#4d4d4d', font: { size: 7.5 },
                   callback: (v, i, t) => t[i].text },
          grid, border: { display: false, dash: [2, 2] },
          title: { display: true, text: p.xTitle, color: '#1a1a1a', font: { size: 9.5 },
                   padding: { top: 0, bottom: p.titlePad } }
        },
        y: {
          type: 'linear', min: yRange[0], max: yRange[1],
          afterBuildTicks: s => { s.ticks = ys.map(t => ({ ...t })); },
          afterFit: s => { s.width = p.yAxisW; },
          ticks: { padding: 2, color: '#4d4d4d', font: { size: 7.5 }, callback: (v, i, t) => t[i].text },
          grid, border: { display: false, dash: [2, 2] },
          title: { display: true, text: 'mRNA expression', color: '#1a1a1a', font: { size: 9.5 },
                   padding: { top: 1, bottom: 0 } }
        }
      }
    },
    plugins: [framePlugin, corBoxPlugin]
  });
}

scatterPanel('mait', {
  points: maitPoints.concat(maitPointsDense), fitX: maitFitX, fitY: maitFitY, fitHalf: maitFitHalf,
  xLabels: maitXLabels, xRange: [-0.0098, 0.210], xTitle: 'MAIT infiltrate score (ImmuCellAI)',
  padL: 0, padR: 27, yAxisW: 38, xAxisH: 25, titlePad: 1,
  box: ['Cor. = 0.48', 'FDR = 1.2e−32'], boxRight: 10, boxTop: 5, boxW: 60
});
scatterPanel('th17', {
  points: th17Points.concat(th17PointsDense), fitX: th17FitX, fitY: th17FitY, fitHalf: th17FitHalf,
  xLabels: th17XLabels, xRange: [-0.0133, 0.293], xTitle: 'Th17 infiltrate score (ImmuCellAI)',
  padL: 25, padR: 3, yAxisW: 40, xAxisH: 26, titlePad: 2.6,
  box: ['Cor. = 0.25', 'FDR = 1.3e−08'], boxRight: 7, boxTop: 5, boxW: 62
});
scatterPanel('exhausted', {
  points: exhPoints.concat(exhPointsDense), fitX: exhFitX, fitY: exhFitY, fitHalf: exhFitHalf,
  xLabels: exhXLabels, xRange: [-0.0086, 0.1847], xTitle: 'Exhausted infiltrate score (ImmuCellAI)',
  padL: 0, padR: 27, yAxisW: 38, xAxisH: 24, titlePad: 0.6,
  box: ['Cor. = −0.32', 'FDR = 4.3e−14'], boxRight: 6, boxTop: 8, boxW: 63
});
scatterPanel('ntreg', {
  points: ntregPoints.concat(ntregPointsDense), fitX: ntregFitX, fitY: ntregFitY, fitHalf: ntregFitHalf,
  xLabels: ntregXLabels, xRange: [-0.0116, 0.2568], xTitle: 'nTreg infiltrate score (ImmuCellAI)',
  padL: 25, padR: 3, yAxisW: 40, xAxisH: 25, titlePad: 1.3,
  box: ['Cor. = −0.5', 'FDR = 1.7e−35'], boxRight: 8, boxTop: 6, boxW: 62
});
</script>
</body>
</html>
